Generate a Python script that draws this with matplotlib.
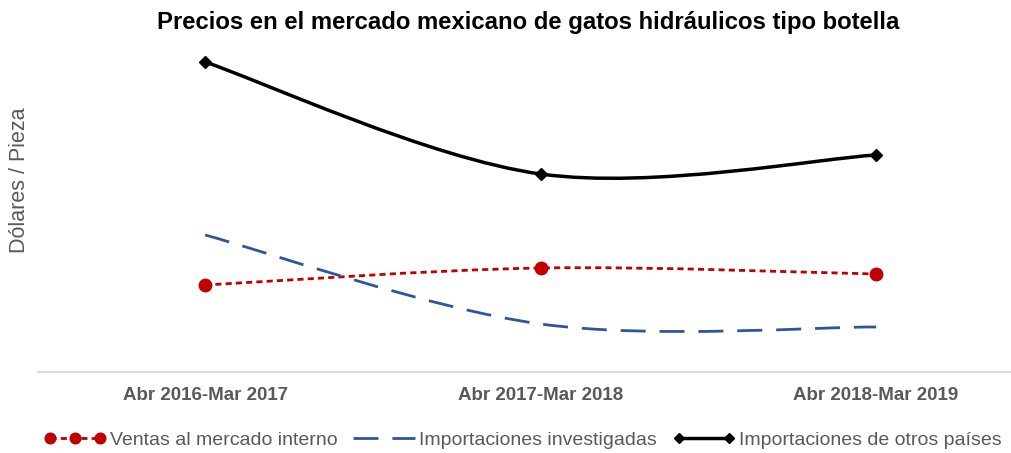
import numpy as np
import matplotlib.pyplot as plt
from matplotlib.path import Path
from matplotlib.patches import PathPatch
from matplotlib.lines import Line2D
from matplotlib.legend_handler import HandlerLine2D

plt.rcParams['font.family'] = ['Liberation Sans', 'DejaVu Sans']

periodos = ['Abr 2016-Mar 2017', 'Abr 2017-Mar 2018', 'Abr 2018-Mar 2019']
ventas_internas = [87, 104, 98]
imp_investigadas = [137, 48, 45]
imp_otros = [310, 198, 217]

gris = '#595959'


def curva_suave(xs, ys):
    # bezier tipo Excel (catmull-rom) que pasa por los puntos
    pts = np.column_stack([xs, ys]).astype(float)
    p = np.vstack([pts[0], pts, pts[-1]])
    verts = [pts[0]]
    codes = [Path.MOVETO]
    for i in range(1, len(p) - 2):
        c1 = p[i] + (p[i + 1] - p[i - 1]) / 6
        c2 = p[i + 1] - (p[i + 2] - p[i]) / 6
        verts += [c1, c2, p[i + 1]]
        codes += [Path.CURVE4] * 3
    return Path(verts, codes)


fig = plt.figure(figsize=(10.11, 4.53), dpi=100)
ax = fig.add_axes([38 / 1011, 81 / 453, 973 / 1011, 332 / 453])
x = np.arange(len(periodos))

series = [
    (ventas_internas, '#c00000', (0, (2.2, 1.5)), 2.0, 'o', 9, 'Ventas al mercado interno'),
    (imp_investigadas, '#2f559a', (0, (9, 5)), 2.0, None, 0, 'Importaciones investigadas'),
    (imp_otros, '#000000', '-', 2.5, 'D', 6, 'Importaciones de otros países'),
]

handles = []
for vals, color, ls, lw, mk, ms, lab in series:
    patch = PathPatch(curva_suave(x, vals), fill=False, edgecolor=color,
                      linestyle=ls, lw=lw, capstyle='butt')
    ax.add_patch(patch)
    if mk:
        ax.plot(x, vals, linestyle='none', marker=mk, markersize=ms, color=color)
    handles.append(Line2D([], [], color=color, linestyle=ls, lw=lw,
                          marker=mk, markersize=ms * 0.85, label=lab))

ax.set_xlim(-0.498, 2.402)
ax.set_ylim(0, 332)
ax.set_xticks(x)
ax.set_xticklabels(periodos, fontsize=13.5, fontweight='bold', color=gris)
ax.set_yticks([])
ax.tick_params(axis='x', length=0, pad=11)
for s in ['top', 'right', 'left']:
    ax.spines[s].set_visible(False)
ax.spines['bottom'].set_color('#d9d9d9')
ax.spines['bottom'].set_linewidth(1.5)

fig.text(0.522, 1 - 22 / 453, 'Precios en el mercado mexicano de gatos hidráulicos tipo botella',
         ha='center', va='center', fontsize=17.2, fontweight='bold')
fig.text(20 / 1011, 1 - 180 / 453, 'Dólares / Pieza', rotation=90, ha='center',
         va='center', fontsize=15.5, color=gris)

fig.legend(handles=handles, loc='center', bbox_to_anchor=(0.517, 1 - 440 / 453),
           ncol=3, frameon=False, fontsize=14.0, labelcolor=gris,
           handlelength=3.2, handletextpad=0.2, columnspacing=0.8,
           handler_map={handles[0]: HandlerLine2D(numpoints=3),
                        handles[2]: HandlerLine2D(numpoints=2)})

fig.savefig('out.png', dpi=100)
